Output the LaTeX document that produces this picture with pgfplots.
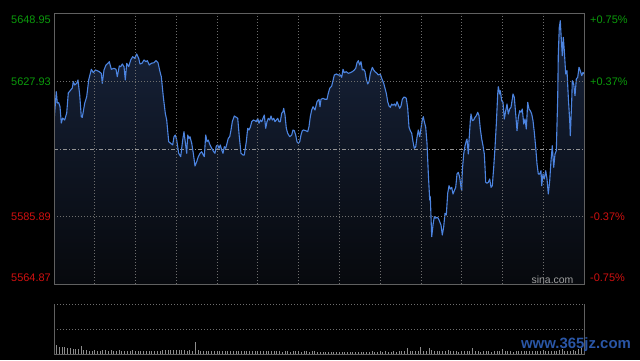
\documentclass[border=0pt]{standalone}
\usepackage{fontspec}
\setmainfont{Liberation Sans}
\usepackage{pgfplots}
\pgfplotsset{compat=1.18}
\usepackage{pgfplotstable}
\usepgfplotslibrary{fillbetween}
\definecolor{linec}{HTML}{4C84E0}
\definecolor{filltop}{HTML}{17233B}
\definecolor{fillbot}{HTML}{07090D}
\definecolor{gridc}{HTML}{6E6E6E}
\definecolor{borderc}{HTML}{606060}
\definecolor{upc}{HTML}{0B9A0B}
\definecolor{downc}{HTML}{D01010}
\definecolor{volc}{HTML}{8C8C8C}
\definecolor{wmblue}{HTML}{2A56A6}

\pgfplotstableread{
min price
0.00 5615.41
1.69 5624.75
2.43 5621.23
3.46 5621.33
4.42 5620.08
5.37 5615.01
6.40 5616.56
7.87 5615.94
9.35 5618.12
10.52 5624.35
12.29 5625.28
13.47 5625.91
14.20 5627.87
15.23 5626.84
16.70 5627.37
17.66 5628.40
18.91 5623.73
20.09 5616.97
20.82 5616.78
22.59 5621.14
24.06 5623.20
25.53 5628.40
27.45 5631.73
28.92 5630.67
30.39 5631.51
31.86 5631.29
33.33 5630.98
34.81 5630.48
35.54 5627.37
36.79 5631.51
38.26 5633.07
39.74 5633.60
40.69 5634.10
42.16 5631.73
44.15 5632.04
45.62 5631.73
46.58 5629.42
48.05 5632.76
49.08 5632.54
50.26 5633.38
51.51 5632.54
52.47 5628.40
53.50 5633.60
54.97 5632.54
56.44 5634.63
57.91 5635.65
59.38 5635.15
60.85 5636.49
62.33 5635.15
63.28 5633.38
64.75 5633.60
66.23 5634.63
67.70 5634.10
68.66 5634.41
70.13 5633.07
71.60 5633.60
73.59 5633.78
75.06 5634.41
76.53 5633.78
78.00 5630.98
78.96 5629.42
80.43 5623.20
81.90 5618.03
82.93 5615.94
84.40 5609.18
85.87 5608.68
87.34 5608.16
88.30 5610.74
89.26 5611.27
90.29 5609.71
91.76 5605.57
93.23 5604.51
94.70 5609.71
95.66 5612.30
96.40 5609.71
97.65 5605.57
98.38 5611.27
99.34 5610.24
100.08 5610.74
101.33 5608.68
102.50 5605.57
103.75 5601.62
105.00 5602.95
106.18 5604.51
107.43 5605.57
108.69 5606.07
109.86 5605.04
110.60 5604.51
111.63 5611.27
112.59 5609.18
113.54 5609.71
114.79 5608.16
116.04 5607.13
117.52 5606.07
118.47 5605.57
119.43 5607.84
120.46 5608.16
121.42 5607.13
122.37 5608.16
123.40 5606.60
124.36 5605.57
125.32 5607.62
126.35 5607.13
127.30 5608.68
128.26 5610.24
129.29 5610.74
130.25 5612.83
131.20 5615.41
132.68 5617.19
134.15 5616.78
135.18 5616.47
136.35 5610.74
137.60 5605.57
139.08 5605.04
140.03 5605.04
141.50 5609.18
142.53 5613.36
143.49 5612.83
144.45 5613.67
145.48 5615.41
146.65 5615.94
147.91 5615.72
148.86 5615.41
149.89 5616.47
150.85 5614.91
151.81 5615.94
152.84 5615.41
153.79 5616.47
154.75 5617.50
155.78 5613.36
156.74 5615.41
157.69 5616.47
158.72 5615.94
159.68 5617.19
160.64 5615.94
161.67 5616.47
162.62 5615.41
163.58 5615.94
164.61 5616.47
165.57 5615.41
166.52 5615.41
167.55 5618.03
168.51 5618.53
169.02 5619.58
169.98 5617.50
170.94 5613.36
171.97 5611.80
173.44 5610.74
174.91 5611.27
175.87 5612.83
176.82 5612.61
177.85 5611.27
178.81 5609.18
179.77 5608.68
180.80 5609.18
181.75 5611.27
182.71 5612.61
183.74 5612.83
185.21 5612.61
186.68 5612.30
187.64 5613.85
188.60 5616.97
189.63 5619.05
190.59 5620.08
192.06 5619.05
193.53 5621.64
195.00 5622.39
195.74 5620.08
196.47 5622.39
197.94 5622.70
199.42 5622.39
200.89 5622.39
201.84 5624.26
202.87 5625.81
204.34 5626.53
205.52 5628.61
206.26 5629.95
207.73 5630.27
209.20 5629.95
210.67 5629.95
211.70 5629.24
212.66 5631.73
213.62 5630.67
215.09 5630.98
216.56 5630.48
218.03 5630.67
219.51 5630.98
220.98 5631.51
222.01 5632.04
222.97 5633.78
223.92 5634.41
224.95 5633.07
225.91 5634.10
226.87 5631.51
227.90 5631.73
228.85 5630.98
229.81 5628.61
230.84 5627.15
231.80 5627.87
232.75 5630.48
234.23 5632.35
235.26 5631.51
236.21 5630.98
237.68 5630.48
238.64 5629.95
240.11 5630.27
241.14 5628.93
242.61 5627.37
243.57 5625.81
244.53 5624.26
245.56 5621.64
246.51 5620.30
247.47 5619.90
248.50 5620.92
249.45 5620.52
250.41 5620.92
251.44 5620.30
252.40 5621.64
253.36 5620.61
254.39 5619.58
255.34 5620.30
256.30 5622.39
257.33 5623.01
258.28 5623.01
259.24 5622.70
260.27 5619.58
261.23 5613.67
262.18 5612.61
263.21 5611.80
264.17 5609.18
265.13 5607.13
266.16 5607.62
267.11 5610.55
268.07 5612.83
269.10 5610.74
270.06 5613.36
271.01 5615.94
271.75 5616.97
272.49 5615.41
273.52 5613.67
274.47 5608.68
275.43 5599.34
276.46 5591.03
276.90 5592.05
277.41 5585.83
277.93 5579.60
278.89 5583.24
279.84 5585.83
280.87 5585.33
281.83 5585.64
282.79 5585.33
283.82 5584.27
284.77 5583.24
285.73 5580.13
286.76 5582.71
287.72 5586.89
288.67 5586.36
289.70 5593.11
290.66 5595.48
291.62 5594.45
292.65 5594.98
293.60 5592.90
294.56 5593.92
295.59 5594.98
296.55 5599.12
297.50 5599.65
298.53 5598.10
299.49 5594.98
300.01 5593.92
300.45 5600.15
301.48 5605.35
302.44 5607.94
303.40 5609.49
303.91 5610.02
304.87 5605.35
305.38 5609.49
306.34 5615.72
306.85 5617.81
307.81 5615.72
308.84 5615.94
309.80 5616.78
310.75 5617.28
311.78 5618.34
312.74 5617.28
313.70 5613.14
314.73 5610.02
315.68 5607.94
316.64 5605.35
317.16 5601.21
317.67 5596.54
318.63 5596.23
319.59 5596.54
320.62 5597.57
321.57 5594.98
322.53 5595.48
323.56 5601.21
324.52 5607.44
325.47 5614.69
326.50 5624.04
326.94 5626.31
327.97 5624.04
328.41 5625.06
329.44 5621.95
330.40 5621.45
331.36 5616.25
332.39 5618.84
333.34 5620.92
334.30 5617.81
335.33 5619.37
336.28 5619.90
337.24 5622.48
337.76 5624.04
338.71 5623.01
339.74 5617.81
340.70 5612.61
341.66 5616.78
342.69 5618.84
343.64 5618.34
344.60 5619.37
345.63 5614.69
346.59 5616.25
347.54 5613.14
348.57 5621.45
349.53 5619.37
350.49 5618.84
351.52 5617.81
352.47 5615.72
353.43 5612.11
354.46 5607.44
355.42 5602.24
356.37 5599.12
357.40 5599.12
358.36 5600.15
358.87 5595.48
359.83 5599.12
360.79 5597.57
361.82 5600.15
362.77 5597.57
363.73 5592.90
364.76 5597.04
365.72 5603.27
366.67 5607.94
367.70 5601.21
368.66 5605.35
369.62 5606.38
370.65 5623.01
371.09 5636.49
371.82 5644.81
372.56 5646.86
373.07 5642.72
374.03 5635.96
374.77 5641.69
375.50 5637.52
376.53 5630.27
377.49 5631.29
378.45 5623.01
379.48 5615.72
379.92 5611.05
380.95 5621.95
381.39 5628.18
382.42 5627.15
383.38 5623.51
384.34 5628.71
385.37 5629.24
386.33 5632.35
387.28 5631.29
388.31 5629.74
389.27 5630.79
390.00 5630.27
}\pricedata

\pgfplotstableread[row sep=\\]{
v\\
10\\9\\7.5\\7\\7\\6.5\\6\\5.5\\5\\5.5\\
8\\4\\4\\3.5\\3.5\\4\\3.5\\3.5\\4.5\\4\\
3.5\\4\\3.5\\3.5\\4\\3.5\\3\\3.5\\3.5\\4\\
3.5\\3\\3.5\\3.5\\3\\3.5\\3\\3.5\\3\\3.5\\
4.5\\4\\4.5\\4.5\\4\\4.5\\4\\4.5\\4\\3.5\\
4\\3.5\\12\\4\\3.5\\3\\3.5\\3\\3.5\\3.5\\
3\\3\\3.5\\3\\3\\3.5\\3\\3\\3.5\\3\\
3\\3.5\\3\\3\\3.5\\3\\3\\3\\3.5\\3\\
3\\3\\3.5\\3\\2.5\\3\\3\\2.5\\3\\3.5\\
3\\2.5\\3\\3\\2.5\\3\\3\\2.5\\2.5\\2.5\\
2\\2.5\\2.5\\2\\2.5\\2.5\\2\\2.5\\2\\2.5\\
2.5\\2\\2.5\\2.5\\2\\2.5\\2.5\\3\\2.5\\2.5\\
3\\2.5\\3\\2.5\\2.5\\3\\2.5\\3\\3\\3\\
6\\3\\3\\3\\3.5\\7\\3.5\\3\\6\\4\\
3.5\\3\\3.5\\3\\3\\4\\3\\3\\3\\2.5\\
3\\3\\3\\3\\6\\3\\3\\2.5\\3\\3\\
3\\2.5\\3\\3\\3\\5\\3\\3\\3\\2.5\\
3\\3\\3\\3\\3\\3\\3\\3\\3\\3\\
4\\3\\3\\3\\3\\3\\4\\5\\3\\3\\
3\\4\\3.5\\5\\6\\7\\
}\voldata

\pagecolor{black}
\begin{document}
\begin{tikzpicture}[x=1bp,y=1bp]
\path (0,0) rectangle (640,360);
\begin{axis}[
  at={(54bp,76bp)}, anchor=south west,
  scale only axis, width=530bp, height=270bp,
  xmin=0, xmax=390, ymin=5564.87, ymax=5648.95,
  xtick={30,60,...,360}, ytick={5585.89,5627.93},
  xticklabels={}, yticklabels={},
  major tick length=0pt,
  grid=major,
  grid style={draw=gridc, line width=0.8bp, dash pattern=on 1bp off 2bp},
  axis line style={draw=borderc, line width=1bp},
  axis on top,
]
\addplot[name path=price, draw=none] table[x=min, y=price] {\pricedata};
\addplot[name path=base, draw=none] coordinates {(0,5564.87) (390,5564.87)};
\addplot[top color=filltop, bottom color=fillbot, draw=none] fill between[of=price and base];
\addplot[draw=gray!85!white, line width=0.8bp, dash pattern=on 4bp off 2bp on 1bp off 2bp] coordinates {(0,5606.91) (390,5606.91)};
\addplot[draw=linec, line width=1.1bp, line join=round] table[x=min, y=price] {\pricedata};
\end{axis}

\begin{axis}[
  at={(54bp,6bp)}, anchor=south west,
  scale only axis, width=530bp, height=50bp,
  xmin=0, xmax=390, ymin=0, ymax=50,
  xtick=\empty, ytick={25,50}, yticklabels={},
  major tick length=0pt,
  ymajorgrids,
  grid style={draw=gridc, line width=0.8bp, dash pattern=on 1bp off 2bp},
  axis line style={draw=none},
  clip=false,
]
\addplot[ycomb, draw=volc, line width=1bp] table[x expr=\coordindex*2, y=v] {\voldata};
\addplot[draw=borderc, line width=1bp] coordinates {(0,50) (0,0) (390,0) (390,50)};
\end{axis}

\begin{scope}[font=\fontsize{11}{13}\selectfont, inner sep=0pt]
\node[anchor=east, text=upc] at (51,340) {5648.95};
\node[anchor=east, text=upc] at (51,278.5) {5627.93};
\node[anchor=east, text=downc] at (51,143.5) {5585.89};
\node[anchor=east, text=downc] at (51,82) {5564.87};
\node[anchor=west, text=upc] at (590,340) {+0.75\%};
\node[anchor=west, text=upc] at (590,278.5) {+0.37\%};
\node[anchor=west, text=downc] at (590,143.5) {-0.37\%};
\node[anchor=west, text=downc] at (590,82) {-0.75\%};
\end{scope}
\node[inner sep=0pt, text=gray!75!white, font=\fontsize{10.5}{12}\selectfont] at (552.5,80.7) {sina.com};
\node[inner sep=0pt, text=wmblue, font=\bfseries\fontsize{15}{17}\selectfont] at (576,15) {www.365jz.com};
\pgfresetboundingbox
\useasboundingbox (0,0) rectangle (640,360);
\end{tikzpicture}
\end{document}
